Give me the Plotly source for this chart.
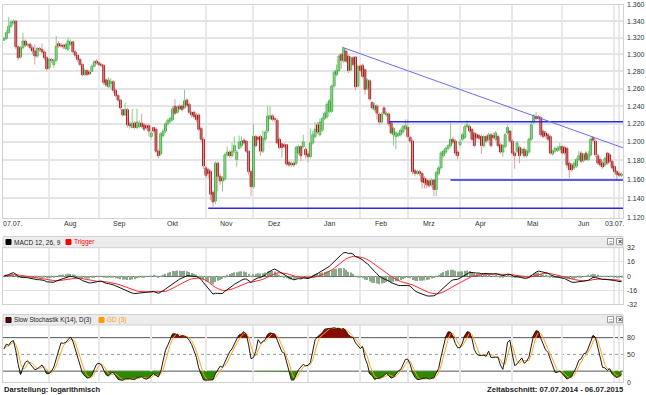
import numpy as np
import pandas as pd
import plotly.graph_objects as go

W, H = 646, 395

# ---------------- data ----------------
DATES = pd.bdate_range("2014-07-07", "2015-07-06")

OPEN = [
    1.317, 1.319, 1.326, 1.334, 1.338, 1.340, 1.309, 1.297, 1.308, 1.316,
    1.311, 1.312, 1.308, 1.304, 1.298, 1.307, 1.306, 1.303, 1.296, 1.284,
    1.294, 1.288, 1.293, 1.313, 1.311, 1.311, 1.307, 1.306, 1.312, 1.315,
    1.303, 1.299, 1.294, 1.288, 1.276, 1.281, 1.279, 1.280, 1.286, 1.292,
    1.290, 1.288, 1.287, 1.270, 1.262, 1.266, 1.268, 1.258, 1.252, 1.247,
    1.236, 1.230, 1.236, 1.220, 1.216, 1.221, 1.216, 1.217, 1.221, 1.219,
    1.218, 1.218, 1.206, 1.216, 1.214, 1.190, 1.187, 1.207, 1.212, 1.220,
    1.223, 1.225, 1.240, 1.233, 1.240, 1.240, 1.238, 1.247, 1.242, 1.233,
    1.233, 1.230, 1.230, 1.215, 1.203, 1.172, 1.170, 1.168, 1.146, 1.137,
    1.177, 1.163, 1.158, 1.160, 1.186, 1.189, 1.185, 1.190, 1.181, 1.193,
    1.196, 1.202, 1.201, 1.190, 1.168, 1.152, 1.206, 1.205, 1.206, 1.190,
    1.203, 1.212, 1.226, 1.229, 1.226, 1.224, 1.203, 1.198, 1.197, 1.197,
    1.178, 1.175, 1.177, 1.177, 1.188, 1.195, 1.195, 1.192, 1.187, 1.184,
    1.199, 1.206, 1.219, 1.208, 1.213, 1.226, 1.228, 1.234, 1.234, 1.263,
    1.276, 1.281, 1.300, 1.292, 1.304, 1.298, 1.282, 1.296, 1.297, 1.263,
    1.286, 1.287, 1.282, 1.260, 1.269, 1.244, 1.236, 1.240, 1.231, 1.222,
    1.238, 1.230, 1.231, 1.221, 1.208, 1.206, 1.207, 1.208, 1.211, 1.215,
    1.216, 1.205, 1.201, 1.169, 1.166, 1.168, 1.166, 1.161, 1.159, 1.158,
    1.154, 1.159, 1.149, 1.166, 1.172, 1.185, 1.189, 1.193, 1.196, 1.203,
    1.201, 1.189, 1.197, 1.203, 1.205, 1.217, 1.217, 1.214, 1.210, 1.208,
    1.207, 1.206, 1.196, 1.206, 1.203, 1.208, 1.207, 1.203, 1.206, 1.197,
    1.189, 1.195, 1.210, 1.212, 1.201, 1.188, 1.190, 1.194, 1.188, 1.192,
    1.185, 1.189, 1.203, 1.222, 1.228, 1.228, 1.227, 1.212, 1.210, 1.208,
    1.206, 1.187, 1.190, 1.191, 1.192, 1.195, 1.194, 1.193, 1.177, 1.175,
    1.172, 1.174, 1.181, 1.188, 1.180, 1.188, 1.181, 1.186, 1.205, 1.201,
    1.185, 1.181, 1.177, 1.175, 1.188, 1.186, 1.179, 1.1735, 1.168, 1.166,
    1.164,
]
HIGH = [
    1.321, 1.329, 1.345, 1.341, 1.342, 1.341, 1.311, 1.310, 1.326, 1.318,
    1.314, 1.314, 1.310, 1.312, 1.309, 1.309, 1.313, 1.305, 1.298, 1.296,
    1.296, 1.295, 1.322, 1.316, 1.313, 1.312, 1.314, 1.320, 1.318, 1.316,
    1.305, 1.300, 1.296, 1.290, 1.283, 1.282, 1.281, 1.288, 1.293, 1.294,
    1.291, 1.290, 1.288, 1.272, 1.273, 1.272, 1.270, 1.260, 1.254, 1.248,
    1.237, 1.244, 1.238, 1.223, 1.237, 1.223, 1.237, 1.224, 1.231, 1.221,
    1.220, 1.220, 1.212, 1.217, 1.216, 1.192, 1.211, 1.214, 1.222, 1.226,
    1.228, 1.240, 1.248, 1.241, 1.242, 1.242, 1.259, 1.249, 1.244, 1.234,
    1.235, 1.232, 1.232, 1.217, 1.205, 1.174, 1.172, 1.170, 1.148, 1.179,
    1.179, 1.166, 1.163, 1.188, 1.195, 1.191, 1.199, 1.206, 1.191, 1.207,
    1.206, 1.204, 1.202, 1.191, 1.170, 1.220, 1.208, 1.207, 1.208, 1.213,
    1.213, 1.240, 1.240, 1.231, 1.228, 1.226, 1.205, 1.199, 1.199, 1.198,
    1.180, 1.179, 1.179, 1.196, 1.197, 1.196, 1.208, 1.194, 1.190, 1.215,
    1.212, 1.222, 1.222, 1.226, 1.228, 1.234, 1.245, 1.248, 1.265, 1.281,
    1.288, 1.300, 1.302, 1.3085, 1.306, 1.299, 1.298, 1.298, 1.298, 1.288,
    1.288, 1.289, 1.283, 1.272, 1.271, 1.246, 1.244, 1.242, 1.233, 1.233,
    1.240, 1.234, 1.233, 1.222, 1.217, 1.212, 1.211, 1.215, 1.219, 1.225,
    1.225, 1.207, 1.203, 1.171, 1.170, 1.170, 1.168, 1.163, 1.161, 1.160,
    1.161, 1.160, 1.169, 1.174, 1.190, 1.192, 1.195, 1.198, 1.221, 1.206,
    1.203, 1.191, 1.203, 1.210, 1.219, 1.224, 1.219, 1.215, 1.211, 1.210,
    1.209, 1.208, 1.208, 1.208, 1.210, 1.210, 1.210, 1.212, 1.208, 1.199,
    1.198, 1.210, 1.219, 1.213, 1.203, 1.190, 1.201, 1.196, 1.194, 1.194,
    1.192, 1.205, 1.223, 1.231, 1.233, 1.230, 1.229, 1.214, 1.212, 1.210,
    1.208, 1.192, 1.195, 1.196, 1.199, 1.197, 1.196, 1.195, 1.179, 1.177,
    1.179, 1.183, 1.190, 1.190, 1.188, 1.190, 1.190, 1.205, 1.206, 1.203,
    1.187, 1.183, 1.179, 1.184, 1.189, 1.188, 1.181, 1.175, 1.170, 1.168,
    1.167,
]
LOW = [
    1.316, 1.317, 1.325, 1.332, 1.336, 1.306, 1.293, 1.295, 1.306, 1.309,
    1.309, 1.305, 1.300, 1.288, 1.296, 1.303, 1.301, 1.293, 1.281, 1.282,
    1.290, 1.284, 1.291, 1.308, 1.308, 1.306, 1.305, 1.304, 1.310, 1.301,
    1.296, 1.291, 1.286, 1.274, 1.275, 1.275, 1.276, 1.279, 1.285, 1.288,
    1.286, 1.285, 1.264, 1.262, 1.261, 1.260, 1.255, 1.250, 1.245, 1.236,
    1.228, 1.229, 1.216, 1.215, 1.215, 1.214, 1.214, 1.215, 1.215, 1.212,
    1.214, 1.206, 1.204, 1.210, 1.188, 1.182, 1.185, 1.205, 1.210, 1.218,
    1.221, 1.223, 1.230, 1.231, 1.235, 1.234, 1.237, 1.239, 1.231, 1.227,
    1.226, 1.222, 1.212, 1.200, 1.171, 1.161, 1.161, 1.138, 1.131, 1.134,
    1.147, 1.154, 1.147, 1.158, 1.184, 1.183, 1.183, 1.188, 1.173, 1.192,
    1.194, 1.197, 1.188, 1.165, 1.142, 1.150, 1.194, 1.201, 1.185, 1.188,
    1.201, 1.210, 1.224, 1.223, 1.222, 1.197, 1.192, 1.183, 1.193, 1.174,
    1.173, 1.173, 1.173, 1.175, 1.186, 1.179, 1.193, 1.182, 1.178, 1.182,
    1.197, 1.204, 1.209, 1.206, 1.211, 1.224, 1.226, 1.232, 1.232, 1.261,
    1.274, 1.279, 1.283, 1.290, 1.290, 1.278, 1.280, 1.286, 1.258, 1.261,
    1.279, 1.272, 1.253, 1.258, 1.246, 1.236, 1.234, 1.225, 1.219, 1.220,
    1.230, 1.228, 1.217, 1.208, 1.196, 1.192, 1.205, 1.206, 1.209, 1.213,
    1.204, 1.199, 1.165, 1.163, 1.164, 1.163, 1.150, 1.150, 1.150, 1.151,
    1.152, 1.142, 1.142, 1.164, 1.170, 1.183, 1.187, 1.191, 1.194, 1.198,
    1.185, 1.181, 1.195, 1.201, 1.203, 1.215, 1.210, 1.201, 1.194, 1.203,
    1.202, 1.187, 1.194, 1.199, 1.201, 1.194, 1.203, 1.201, 1.194, 1.187,
    1.184, 1.193, 1.208, 1.199, 1.186, 1.171, 1.188, 1.177, 1.186, 1.183,
    1.183, 1.187, 1.201, 1.220, 1.224, 1.224, 1.206, 1.204, 1.205, 1.201,
    1.186, 1.185, 1.188, 1.189, 1.190, 1.186, 1.186, 1.172, 1.161, 1.168,
    1.170, 1.172, 1.179, 1.177, 1.178, 1.179, 1.179, 1.184, 1.200, 1.184,
    1.175, 1.173, 1.171, 1.173, 1.175, 1.177, 1.170, 1.166, 1.158, 1.162,
    1.162,
]
CLOSE = [
    1.319, 1.326, 1.334, 1.339, 1.340, 1.309, 1.296, 1.308, 1.316, 1.311,
    1.312, 1.308, 1.304, 1.298, 1.307, 1.306, 1.303, 1.296, 1.283, 1.294,
    1.293, 1.293, 1.310, 1.310, 1.310, 1.309, 1.312, 1.316, 1.315, 1.303,
    1.299, 1.294, 1.288, 1.276, 1.281, 1.276, 1.277, 1.286, 1.291, 1.290,
    1.288, 1.287, 1.267, 1.264, 1.270, 1.268, 1.258, 1.252, 1.247, 1.238,
    1.230, 1.236, 1.219, 1.218, 1.221, 1.216, 1.222, 1.221, 1.217, 1.214,
    1.216, 1.212, 1.210, 1.212, 1.190, 1.185, 1.209, 1.212, 1.220, 1.224,
    1.226, 1.237, 1.232, 1.239, 1.237, 1.236, 1.246, 1.241, 1.233, 1.230,
    1.228, 1.225, 1.214, 1.203, 1.174, 1.164, 1.166, 1.144, 1.136, 1.177,
    1.163, 1.158, 1.161, 1.186, 1.189, 1.185, 1.190, 1.196, 1.189, 1.200,
    1.201, 1.199, 1.190, 1.168, 1.152, 1.206, 1.196, 1.203, 1.190, 1.204,
    1.211, 1.229, 1.229, 1.225, 1.225, 1.199, 1.194, 1.194, 1.195, 1.176,
    1.175, 1.177, 1.175, 1.194, 1.195, 1.185, 1.200, 1.186, 1.184, 1.199,
    1.208, 1.214, 1.211, 1.222, 1.226, 1.232, 1.242, 1.246, 1.263, 1.279,
    1.281, 1.298, 1.293, 1.307, 1.292, 1.281, 1.296, 1.288, 1.262, 1.286,
    1.281, 1.274, 1.259, 1.270, 1.248, 1.238, 1.241, 1.232, 1.222, 1.231,
    1.232, 1.232, 1.220, 1.210, 1.215, 1.210, 1.209, 1.213, 1.217, 1.218,
    1.206, 1.201, 1.168, 1.166, 1.168, 1.166, 1.157, 1.156, 1.154, 1.153,
    1.159, 1.149, 1.167, 1.172, 1.188, 1.190, 1.193, 1.196, 1.203, 1.200,
    1.188, 1.185, 1.200, 1.208, 1.217, 1.219, 1.212, 1.203, 1.196, 1.205,
    1.204, 1.196, 1.206, 1.201, 1.208, 1.196, 1.205, 1.210, 1.196, 1.189,
    1.196, 1.208, 1.216, 1.201, 1.188, 1.185, 1.199, 1.185, 1.192, 1.185,
    1.190, 1.203, 1.219, 1.229, 1.226, 1.226, 1.208, 1.206, 1.207, 1.203,
    1.188, 1.190, 1.193, 1.193, 1.195, 1.188, 1.188, 1.175, 1.170, 1.170,
    1.177, 1.181, 1.185, 1.179, 1.186, 1.181, 1.186, 1.203, 1.202, 1.186,
    1.177, 1.175, 1.173, 1.182, 1.177, 1.179, 1.172, 1.168, 1.165, 1.164,
    1.165,
]

# hand-drawn chart lines (start day index, price)
TREND_X = [142.4, 260.6]
TREND_Y = [1.3085, 1.1936]
LEVEL_START = [162, 188, 86]
LEVEL_PRICE = [1.2225, 1.1590, 1.1295]

PRICE_TICKS = [1.12, 1.14, 1.16, 1.18, 1.20, 1.22, 1.24, 1.26, 1.28, 1.30, 1.32, 1.34, 1.36]
MACD_TICKS = [-32, -16, 0, 16, 32]
STOCH_TICKS = [0, 50, 80]
MONTH_LABELS = ["Aug", "Sep", "Okt", "Nov", "Dez", "Jan", "Feb", "Mrz", "Apr", "Mai", "Jun"]
START_LABEL = "07.07."
END_LABEL = "03.07."
END_LABEL_DAY = "2015-07-03"

N = len(CLOSE)
assert len(OPEN) == len(HIGH) == len(LOW) == N == len(DATES)
idx = np.arange(N)
o = np.array(OPEN); h = np.array(HIGH); l = np.array(LOW); c = np.array(CLOSE)

# ---------------- indicators ----------------
cs = pd.Series(c)
macd = (cs.ewm(span=12, adjust=False).mean() - cs.ewm(span=26, adjust=False).mean()) * 1000
trig = macd.ewm(span=9, adjust=False).mean()
hist = macd - trig

hh = pd.Series(h).rolling(14, min_periods=1).max()
ll = pd.Series(l).rolling(14, min_periods=1).min()
rawk = 100 * (cs - ll) / (hh - ll)
slowk = rawk.rolling(3, min_periods=1).mean()
gd = slowk.rolling(3, min_periods=1).mean()

# ---------------- geometry helpers ----------------
def fx(p):
    return p / W

def fy(p):
    return 1 - p / H

XL, XR = 3, 623
XDOM = [fx(XL), fx(XR)]
XRANGE = [-0.4, N - 0.4]
PRICE_DOM = [fy(217.5), fy(5)]
MACD_DOM = [fy(304.3), fy(247.7)]
STOCH_DOM = [fy(382.3), fy(325)]

month_starts = [i for i in range(1, N) if DATES[i].month != DATES[i - 1].month]
end_i = int(np.where(DATES == pd.Timestamp(END_LABEL_DAY))[0][0])

FONT = "Liberation Sans"
TXT = "#333333"
DOWN_BODY = "#940808"
DOWN_WICK = "#e39a9a"
UP_LINE = "#179717"
UP_FILL = "#b5e0b5"
UP_WICK = "#86cd86"

fig = go.Figure()

# wicks
up = c >= o
for mask, col in [(up, UP_WICK), (~up, DOWN_WICK)]:
    xs, ys = [], []
    for i in idx[mask]:
        xs += [i, i, None]
        ys += [min(l[i], o[i], c[i]), max(h[i], o[i], c[i]), None]
    fig.add_trace(go.Scatter(x=xs, y=ys, mode="lines", line=dict(color=col, width=1),
                             hoverinfo="skip", showlegend=False, xaxis="x", yaxis="y"))

# bodies (open -> close) as floating bars
body_lo = np.minimum(o, c)
body_len = np.abs(c - o)
for mask, fill, edge in [(up, UP_FILL, UP_LINE), (~up, DOWN_BODY, DOWN_BODY)]:
    fig.add_trace(go.Bar(x=idx[mask], y=body_len[mask], base=body_lo[mask], width=0.78,
                         marker=dict(color=fill, line=dict(color=edge, width=0.8)),
                         hoverinfo="skip", showlegend=False, xaxis="x", yaxis="y"))

# drawn lines
for s, p in zip(LEVEL_START, LEVEL_PRICE):
    fig.add_trace(go.Scatter(x=[s, XRANGE[1]], y=[p, p], mode="lines",
                             line=dict(color="#2a2ae6", width=1.5), hoverinfo="skip",
                             showlegend=False, xaxis="x", yaxis="y"))
fig.add_trace(go.Scatter(x=TREND_X, y=TREND_Y, mode="lines",
                         line=dict(color="#6b6bf2", width=1), hoverinfo="skip",
                         showlegend=False, xaxis="x", yaxis="y"))

# MACD panel
fig.add_trace(go.Bar(x=idx, y=hist, width=0.45, marker=dict(color="#8aa88a", line=dict(width=0)),
                     hoverinfo="skip", showlegend=False, xaxis="x2", yaxis="y2"))
fig.add_trace(go.Scatter(x=idx, y=trig, mode="lines", line=dict(color="#ff2a2a", width=1),
                         hoverinfo="skip", showlegend=False, xaxis="x2", yaxis="y2"))
fig.add_trace(go.Scatter(x=idx, y=macd, mode="lines", line=dict(color="#111111", width=1),
                         hoverinfo="skip", showlegend=False, xaxis="x2", yaxis="y2"))

# Stochastic panel fills
for thr, arr, col in [(80, np.maximum(slowk, 80), "#8b0a00"), (20, np.minimum(slowk, 20), "#2d8a00")]:
    fig.add_trace(go.Scatter(x=idx, y=np.full(N, thr), mode="lines", line=dict(width=0),
                             hoverinfo="skip", showlegend=False, xaxis="x3", yaxis="y3"))
    fig.add_trace(go.Scatter(x=idx, y=arr, mode="lines", line=dict(width=0), fill="tonexty",
                             fillcolor=col, hoverinfo="skip", showlegend=False, xaxis="x3", yaxis="y3"))
fig.add_trace(go.Scatter(x=idx, y=gd, mode="lines", line=dict(color="#ffa31f", width=1),
                         hoverinfo="skip", showlegend=False, xaxis="x3", yaxis="y3"))
fig.add_trace(go.Scatter(x=idx, y=slowk, mode="lines", line=dict(color="#1a1a1a", width=1),
                         hoverinfo="skip", showlegend=False, xaxis="x3", yaxis="y3"))

# ---------------- axes ----------------
xcommon = dict(domain=XDOM, range=XRANGE, tickmode="array", tickvals=month_starts + [end_i],
               showticklabels=False, ticks="", showgrid=True, gridcolor="#e9e9e9", gridwidth=1.5,
               zeroline=False, showline=True, linecolor="#d2d2d2", linewidth=1, mirror=True,
               fixedrange=True)
ycommon = dict(side="right", ticks="", showticklabels=False, showline=True, linecolor="#d2d2d2",
               mirror=True, fixedrange=True)
lay = dict(
    width=W, height=H, margin=dict(l=0, r=0, t=0, b=0, pad=0), autosize=False,
    paper_bgcolor="white", plot_bgcolor="white", showlegend=False, barmode="overlay",
    xaxis=dict(**xcommon, anchor="y"),
    xaxis2=dict(**xcommon, anchor="y2"),
    xaxis3=dict(**xcommon, anchor="y3"),
    yaxis=dict(**ycommon, domain=PRICE_DOM, type="log", range=[np.log10(1.12), np.log10(1.36)],
               tickmode="array", tickvals=PRICE_TICKS, anchor="x", showgrid=True,
               gridcolor="#e4e4e4", gridwidth=1.5, zeroline=False),
    yaxis2=dict(**ycommon, domain=MACD_DOM, range=[-32, 32], tickmode="array", tickvals=MACD_TICKS,
                anchor="x2", showgrid=True, gridcolor="#e2e2e2", gridwidth=1.2, zeroline=True,
                zerolinecolor="#6f6f6f", zerolinewidth=1),
    yaxis3=dict(**ycommon, domain=STOCH_DOM, range=[0, 102.7], anchor="x3", showgrid=False,
                zeroline=False),
)
fig.update_layout(**lay)

shapes = []
# stochastic guide lines
for v, col, dash in [(80, "#555555", "solid"), (20, "#555555", "solid"), (50, "#9a9a9a", "dot")]:
    shapes.append(dict(type="line", xref="x3 domain", yref="y3", x0=0, x1=1, y0=v, y1=v,
                       line=dict(color=col, width=1, dash=dash), layer="below"))

# panel header bars
for top, bot in [(236.5, 247.7), (314.5, 325)]:
    shapes.append(dict(type="rect", xref="paper", yref="paper", x0=fx(XL), x1=fx(XR),
                       y0=fy(bot), y1=fy(top), fillcolor="#ececec", line=dict(color="#d2d2d2", width=1)))
    for x0 in (607.5, 616.5):
        shapes.append(dict(type="rect", xref="paper", yref="paper", x0=fx(x0), x1=fx(x0 + 6),
                           y0=fy(top + 8.2), y1=fy(top + 2), fillcolor="white",
                           line=dict(color="#9a9a9a", width=1)))

# legend squares
def sq(x0, yc, fill, border):
    shapes.append(dict(type="rect", xref="paper", yref="paper", x0=fx(x0), x1=fx(x0 + 5),
                       y0=fy(yc + 2.5), y1=fy(yc - 2.5), fillcolor=fill, line=dict(color=border, width=1)))

sq(6, 242, "#000000", "#000000")
sq(66, 242, "#ff0000", "#ff0000")
sq(6, 320, "#6e0000", "#000000")
sq(99, 320, "#ff9900", "#ff9900")

annotations = []

def txt(x, y, s, color=TXT, size=7, anchor="left", bold=False, xref="paper", yref="paper",
        xshift=0):
    annotations.append(dict(x=fx(x) if xref == "paper" else x, y=fy(y) if yref == "paper" else y,
                            xref=xref, yref=yref,
                            text=f"<b>{s}</b>" if bold else s, showarrow=False, xanchor=anchor,
                            yanchor="middle", xshift=xshift, borderpad=0,
                            font=dict(family=FONT, size=size, color=color)))

# right-hand tick labels
for v in PRICE_TICKS:
    txt(625.5, np.log10(v), f"{v:.3f}", yref="y")
for v in MACD_TICKS:
    txt(625.5, v, str(v), yref="y2")
for v in STOCH_TICKS:
    txt(625.5, v, str(v), yref="y3")

# x-axis labels
txt(0, 223.5, START_LABEL, anchor="left", xref="x", xshift=-2)
for i, lab in zip(month_starts, MONTH_LABELS):
    txt(i, 223.5, lab, anchor="center", xref="x", xshift=21)
txt(end_i, 223.5, END_LABEL, anchor="center", xref="x", xshift=-4)

# headers
txt(12.5, 242, "MACD 12, 26, 9", color="#222222", size=6.5)
txt(73, 242, "Trigger", color="#ff0000", size=6.5)
txt(12.5, 320, "Slow Stochastik K(14), D(3)", color="#222222", size=6.3)
txt(106, 320, "GD (3)", color="#ff9900", size=6.5)
for top in (236.5, 314.5):
    txt(610.5, top + 5, "::", size=5.5, anchor="center", bold=True)
    txt(619.5, top + 5, "×", size=7, anchor="center", bold=True)

# footer
txt(3, 389.5, "Darstellung: logarithmisch", color="#222222", bold=True, size=7.6)
txt(625, 389.5, f"Zeitabschnitt: {DATES[0]:%d.%m.%Y} - {DATES[-1]:%d.%m.%Y}", color="#222222",
    bold=True, anchor="right", size=7.7)

fig.update_layout(shapes=shapes, annotations=annotations)
fig.write_html("out.html", config={"displayModeBar": False},
               post_script="document.body.style.margin='0';document.body.style.overflow='hidden';")
